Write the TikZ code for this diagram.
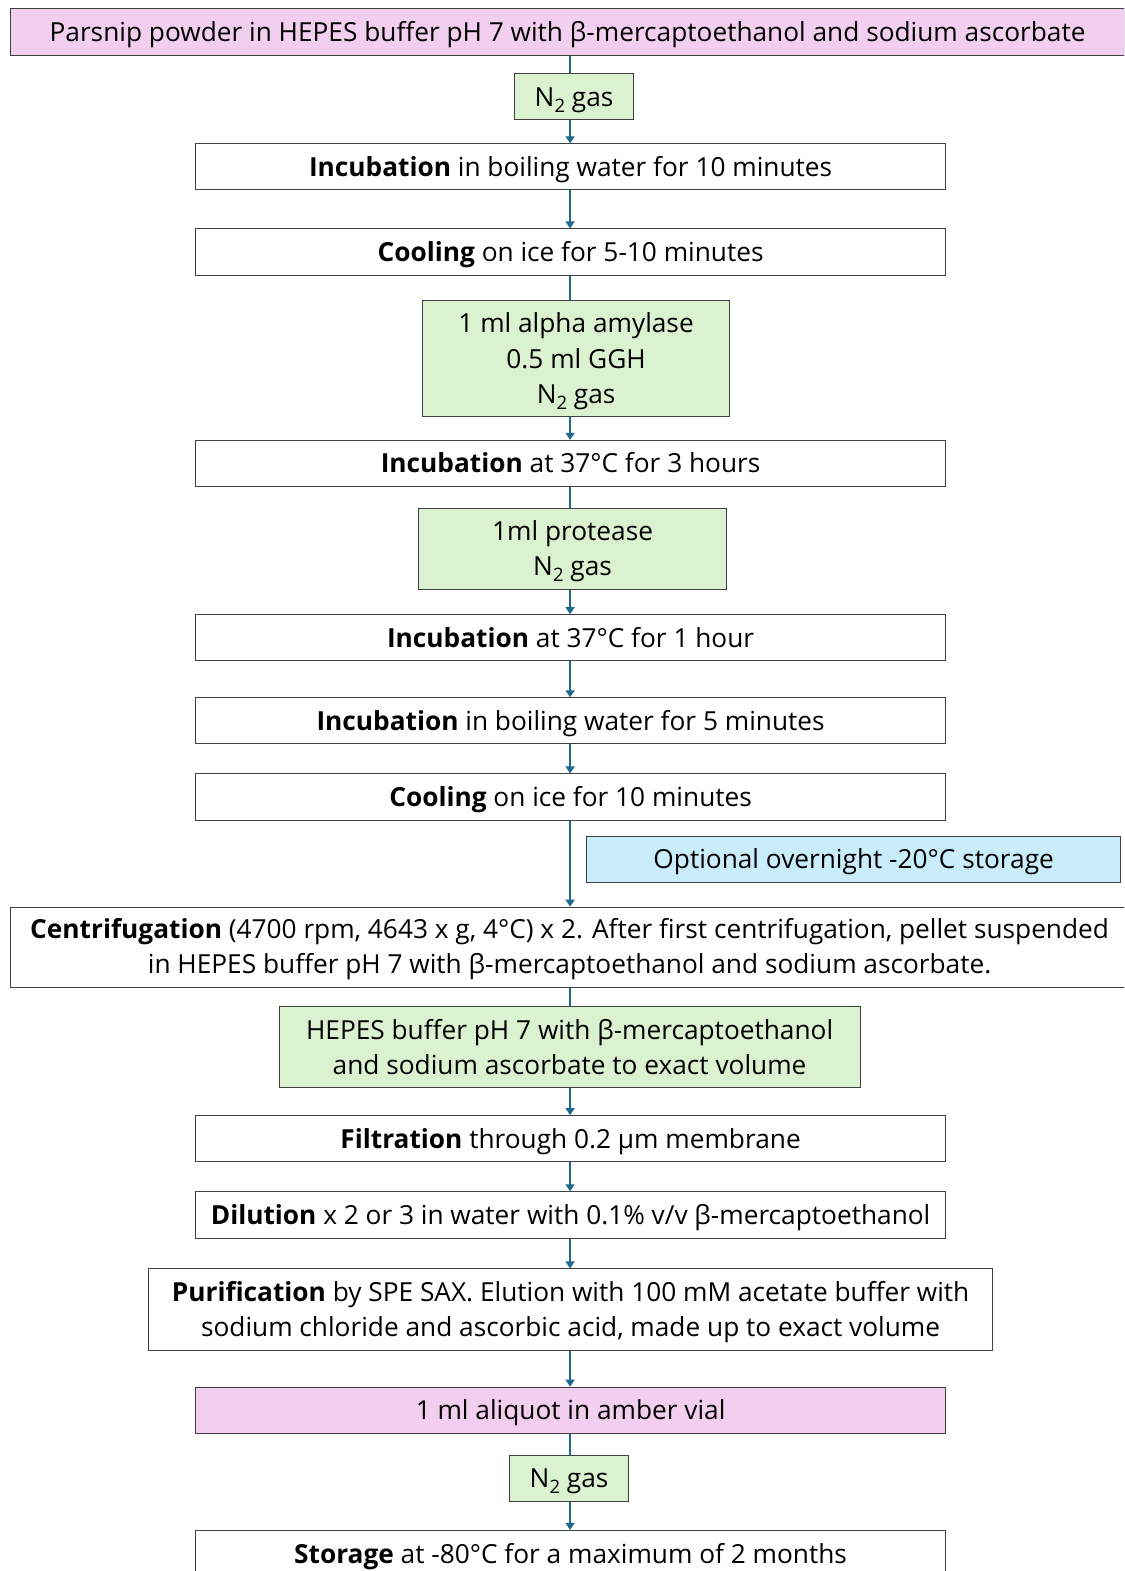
\documentclass[tikz,border=0pt]{standalone}
\usepackage{fontspec}
\setmainfont{Open Sans}
\usetikzlibrary{arrows.meta}
\definecolor{pinkfill}{HTML}{F2CEEF}
\definecolor{greenfill}{HTML}{DAF2D0}
\definecolor{bluefill}{HTML}{CAEDFB}
\definecolor{conn}{HTML}{1F6A8C}
\definecolor{edge}{HTML}{404040}
\newcommand{\subtwo}{\raisebox{-6pt}{\fontsize{18.5}{18.5}\selectfont 2}}
\newcommand{\toplift}[1]{\rule{0pt}{#1}}
\begin{document}
\begin{tikzpicture}[x=1pt,y=1pt,
  basebox/.style={draw=edge, line width=1pt, inner sep=0pt, anchor=north west, align=center,
     font=\fontsize{26.2}{35}\selectfont, text=black},
  oneline/.style={text height=24.5pt, text depth=5.5pt},
  whitebox/.style={basebox, fill=white},
  pinkbox/.style={basebox, fill=pinkfill},
  greenbox/.style={basebox, fill=greenfill},
  bluebox/.style={basebox, fill=bluefill},
  plain/.style={draw=conn, line width=1.4pt},
  arr/.style={plain, -{Triangle[width=9pt,length=7pt]}}]
\useasboundingbox (0,0) rectangle (1122,-1568);
\clip (0,0) rectangle (1122,-1568);
\coordinate (spine) at (569,0);
\node[pinkbox, oneline, minimum width=1112pt, minimum height=47pt] (top) at (10,-8) {Parsnip powder in HEPES buffer pH 7 with β-mercaptoethanol and sodium ascorbate};
\node[greenbox, oneline, minimum width=119pt, minimum height=46pt] (n2a) at (513,-73) {N\subtwo{} gas};
\node[whitebox, oneline, minimum width=748pt, minimum height=46pt] (inc10) at (195,-143) {\textbf{Incubation} in boiling water for 10 minutes};
\node[whitebox, oneline, minimum width=748pt, minimum height=46pt] (cool1) at (195,-228) {\textbf{Cooling} on ice for 5-10 minutes};
\node[greenbox, minimum width=307pt, minimum height=116pt] (amy) at (421,-299) {\toplift{26pt}1 ml alpha amylase\\0.5 ml GGH\\N\subtwo{} gas};
\node[whitebox, oneline, minimum width=748pt, minimum height=46pt] (inc3) at (195,-439) {\textbf{Incubation} at 37°C for 3 hours};
\node[greenbox, minimum width=308pt, minimum height=81pt] (prot) at (417,-507) {\toplift{24pt}1ml protease\\N\subtwo{} gas};
\node[whitebox, oneline, minimum width=748pt, minimum height=46pt] (inc1) at (195,-613) {\textbf{Incubation} at 37°C for 1 hour};
\node[whitebox, oneline, minimum width=748pt, minimum height=46pt] (inc5) at (195,-696) {\textbf{Incubation} in boiling water for 5 minutes};
\node[whitebox, oneline, minimum width=748pt, minimum height=46pt] (cool2) at (195,-772) {\textbf{Cooling} on ice for 10 minutes};
\node[bluebox, oneline, minimum width=533pt, minimum height=46pt] (opt) at (585,-834) {Optional overnight -20°C storage};
\node[whitebox, minimum width=1116pt, minimum height=80pt] (cent) at (10,-905) {\toplift{24pt}\textbf{Centrifugation} (4700 rpm, 4643 x g, 4°C) x 2. After first centrifugation, pellet suspended\\in HEPES buffer pH 7 with β-mercaptoethanol and sodium ascorbate.};
\node[greenbox, minimum width=580pt, minimum height=81pt] (hep) at (278,-1004) {HEPES buffer pH 7 with β-mercaptoethanol\\and sodium ascorbate to exact volume};
\node[whitebox, oneline, minimum width=748pt, minimum height=46pt] (filt) at (195,-1113) {\textbf{Filtration} through 0.2 µm membrane};
\node[whitebox, oneline, minimum width=748pt, minimum height=47pt] (dil) at (195,-1189) {\textbf{Dilution} x 2 or 3 in water with 0.1\% v/v β-mercaptoethanol};
\node[whitebox, minimum width=842pt, minimum height=81pt] (pur) at (148,-1266) {\toplift{25pt}\textbf{Purification} by SPE SAX. Elution with 100 mM acetate buffer with\\sodium chloride and ascorbic acid, made up to exact volume};
\node[pinkbox, oneline, minimum width=748pt, minimum height=46pt] (ali) at (195,-1384) {1 ml aliquot in amber vial};
\node[greenbox, oneline, minimum width=119pt, minimum height=46pt] (n2b) at (508,-1452) {N\subtwo{} gas};
\node[whitebox, oneline, minimum width=748pt, minimum height=47pt] (stor) at (195,-1527) {\textbf{Storage} at -80°C for a maximum of 2 months};
\draw[plain] (top.south -| spine) -- (n2a.north -| spine);
\draw[arr] (n2a.south -| spine) -- (inc10.north -| spine);
\draw[arr] (inc10.south -| spine) -- (cool1.north -| spine);
\draw[plain] (cool1.south -| spine) -- (amy.north -| spine);
\draw[arr] (amy.south -| spine) -- (inc3.north -| spine);
\draw[plain] (inc3.south -| spine) -- (prot.north -| spine);
\draw[arr] (prot.south -| spine) -- (inc1.north -| spine);
\draw[arr] (inc1.south -| spine) -- (inc5.north -| spine);
\draw[arr] (inc5.south -| spine) -- (cool2.north -| spine);
\draw[arr] (cool2.south -| spine) -- (cent.north -| spine);
\draw[plain] (cent.south -| spine) -- (hep.north -| spine);
\draw[arr] (hep.south -| spine) -- (filt.north -| spine);
\draw[arr] (filt.south -| spine) -- (dil.north -| spine);
\draw[arr] (dil.south -| spine) -- (pur.north -| spine);
\draw[arr] (pur.south -| spine) -- (ali.north -| spine);
\draw[plain] (ali.south -| spine) -- (n2b.north -| spine);
\draw[arr] (n2b.south -| spine) -- (stor.north -| spine);
\end{tikzpicture}
\end{document}
